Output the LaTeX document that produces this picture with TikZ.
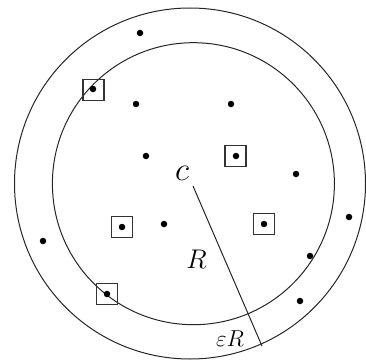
\RequirePackage{fix-cm}
\documentclass[tikz,border=0pt]{standalone}
\begin{document}
\begin{tikzpicture}[x=1pt,y=-1pt,
  dotpt/.style={circle,fill=black,inner sep=0pt,minimum size=6.5pt},
  boxpt/.style={draw=black!80,line width=1.5pt,minimum size=21pt,inner sep=0pt},
  ring/.style={draw=black!85,line width=1pt},
  lbl/.style={inner sep=0pt}]
\useasboundingbox (0,0) rectangle (366,361);
\coordinate (oc) at (190,183.5);
\coordinate (ic) at (193.4,183.7);
\draw[ring] (oc) circle[radius=175.5];
\draw[ring] (ic) circle[radius=141];
% radius line
\coordinate (rs) at (193,186);
\coordinate (re) at (262,346);
\draw[line width=1pt,black!85] (rs) -- (re);
% points
\foreach \n/\x/\y in {p1/140/33,p2/136/104,p3/231/104,p4/146/156,p5/296/174,p6/349/217,p7/43/241,p8/164/224,p9/310/256,p10/300/301,q1/93/89,q2/236/156,q3/122/227,q4/264/224,q5/107/294}
  \node[dotpt] (\n) at (\x,\y) {};
\foreach \n/\x/\y in {b1/93.5/90,b2/235.5/156,b3/122/227,b4/264/224,b5/107/294}
  \node[boxpt] (\n) at (\x,\y) {};
% labels
\node[lbl,anchor=base] (lc) at (182,180) {\fontsize{33}{38}\selectfont$c$};
\node[lbl,anchor=base] (lR) at (196.5,268) {\fontsize{27}{32}\selectfont$R$};
\node[lbl,anchor=base] (leR) at (230,346) {\fontsize{23}{28}\selectfont$\varepsilon R$};
\end{tikzpicture}
\end{document}
